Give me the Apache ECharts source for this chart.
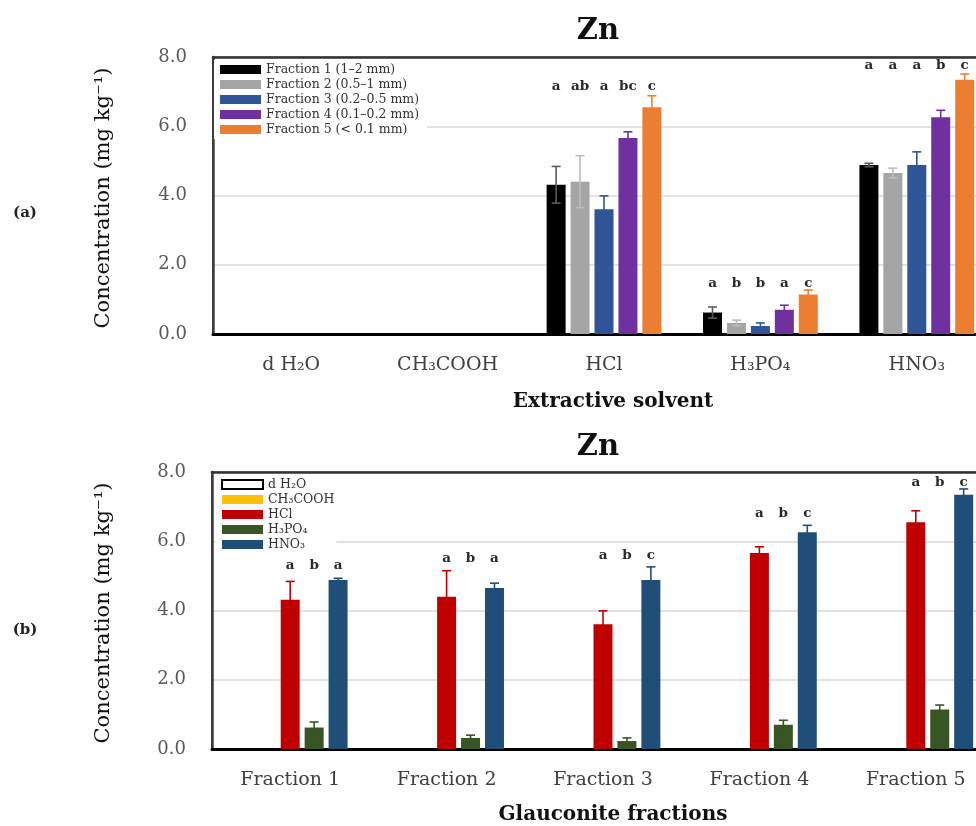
<!DOCTYPE html>
<html>
<head>
<meta charset="utf-8">
<script src="https://cdn.jsdelivr.net/npm/echarts@6/dist/echarts.min.js"></script>
<style>html,body{margin:0;padding:0;background:#fff;}#c{width:976px;height:826px;}</style>
</head>
<body>
<div id="c"></div>
<script>
// ---- data ----
const solvents = ['d H₂O', 'CH₃COOH', 'HCl', 'H₃PO₄', 'HNO₃'];
const fractionNamesTop = ['Fraction 1 (1–2 mm)', 'Fraction 2 (0.5–1 mm)', 'Fraction 3 (0.2–0.5 mm)', 'Fraction 4 (0.1–0.2 mm)', 'Fraction 5 (< 0.1 mm)'];
const fractionNamesBottom = ['Fraction 1', 'Fraction 2', 'Fraction 3', 'Fraction 4', 'Fraction 5'];
const yTicks = [0, 2, 4, 6, 8];

// concentrations (mg/kg), indexed by fraction 1..5
const dH2O    = [null, null, null, null, null];
const CH3COOH = [null, null, null, null, null];
const HCl     = [4.31, 4.40, 3.60, 5.66, 6.55];
const H3PO4   = [0.62, 0.32, 0.23, 0.70, 1.14];
const HNO3    = [4.88, 4.65, 4.88, 6.26, 7.34];
// standard deviations
const dH2OErr    = [null, null, null, null, null];
const CH3COOHErr = [null, null, null, null, null];
const HClErr     = [0.53, 0.75, 0.39, 0.18, 0.33];
const H3PO4Err   = [0.16, 0.08, 0.09, 0.13, 0.13];
const HNO3Err    = [0.05, 0.14, 0.38, 0.20, 0.17];

// significance letters, panel (a): compare fractions within a solvent
const lettersA_HCl   = ['a', 'ab', 'a', 'bc', 'c'];
const lettersA_H3PO4 = ['a', 'b', 'b', 'a', 'c'];
const lettersA_HNO3  = ['a', 'a', 'a', 'b', 'c'];
// panel (b): compare solvents within a fraction
const lettersB_HCl   = ['a', 'a', 'a', 'a', 'a'];
const lettersB_H3PO4 = ['b', 'b', 'b', 'b', 'b'];
const lettersB_HNO3  = ['a', 'a', 'c', 'c', 'c'];
// letter heights (data units)
const letterLevelA = [null, null, 7.15, 1.45, 7.75];   // by solvent
const letterLevelB = [5.30, 5.50, 5.60, 6.80, 7.70];   // by fraction

// ---- styling ----
const FONT = 'DejaVu Serif';
const colorsTop = ['#000000', '#a5a5a5', '#2f5597', '#7030a0', '#ed7d31'];
const errColorsTop = ['#5a5a5a', '#bdbdbd', '#2f5597', '#7030a0', '#ed7d31'];
const colorsBottom = ['#ffffff', '#ffc000', '#c00000', '#375623', '#1f4e79'];
const errColorsBottom = ['#000000', '#ffc000', '#c00000', '#375623', '#1f4e79'];
const BAR_W = 19, GAP = 0.26;
const PITCH = BAR_W * (1 + GAP);

const bySolvent = [dH2O, CH3COOH, HCl, H3PO4, HNO3];
const errBySolvent = [dH2OErr, CH3COOHErr, HClErr, H3PO4Err, HNO3Err];
const lettersA = [null, null, lettersA_HCl, lettersA_H3PO4, lettersA_HNO3];
const lettersB = [null, null, lettersB_HCl, lettersB_H3PO4, lettersB_HNO3];

// Panel (a): series = fraction, category = solvent
const seriesTop = fractionNamesTop.map((name, k) => ({
  name, type: 'bar', xAxisIndex: 0, yAxisIndex: 0,
  barWidth: BAR_W, barGap: (GAP * 100) + '%',
  itemStyle: { color: colorsTop[k] },
  data: bySolvent.map(arr => arr[k])
}));
// Panel (b): series = solvent, category = fraction
const seriesBottom = solvents.map((name, s) => ({
  name, type: 'bar', xAxisIndex: 1, yAxisIndex: 1,
  barWidth: BAR_W, barGap: (GAP * 100) + '%',
  itemStyle: s === 0 ? { color: '#ffffff', borderColor: '#000', borderWidth: 1.5 } : { color: colorsBottom[s] },
  data: bySolvent[s].slice()
}));

// error-bar data
const errTop = [], errBottom = [];
for (let s = 0; s < 5; s++) {
  for (let f = 0; f < 5; f++) {
    const v = bySolvent[s][f], e = errBySolvent[s][f];
    if (v == null) continue;
    errTop.push({ value: [s, v, e, f], letter: lettersA[s] ? lettersA[s][f] : '', level: letterLevelA[s], col: errColorsTop[f] });
    errBottom.push({ value: [f, v, e, s], letter: lettersB[s] ? lettersB[s][f] : '', level: letterLevelB[f], col: errColorsBottom[s] });
  }
}

function makeErrSeries(list, axisIdx) {
  return {
    type: 'custom', xAxisIndex: axisIdx, yAxisIndex: axisIdx, z: 5, silent: true,
    data: list.map(d => d.value),
    renderItem: function (params, api) {
      const d = list[params.dataIndex];
      const cat = api.value(0), v = api.value(1), e = api.value(2), slot = api.value(3);
      const off = (slot - 2) * PITCH;
      const hi = api.coord([cat, v + e]);
      const lo = api.coord([cat, v - e]);
      const x = hi[0] + off;
      const st = { stroke: d.col, lineWidth: 1.6 };
      const children = [
        { type: 'line', shape: { x1: x, y1: hi[1], x2: x, y2: lo[1] }, style: st },
        { type: 'line', shape: { x1: x - 4.5, y1: hi[1], x2: x + 4.5, y2: hi[1] }, style: st },
        { type: 'line', shape: { x1: x - 4.5, y1: lo[1], x2: x + 4.5, y2: lo[1] }, style: st }
      ];
      if (d.letter && d.level != null) {
        const p = api.coord([cat, d.level]);
        children.push({ type: 'text', style: { text: d.letter, x: p[0] + off, y: p[1], align: 'center', verticalAlign: 'middle', font: 'bold 13.5px "' + FONT + '"', fill: '#2a2a2a' } });
      }
      return { type: 'group', children };
    }
  };
}

const yAxisCommon = {
  type: 'value', min: 0, max: 8, interval: 2,
  axisLine: { show: true, lineStyle: { color: '#3f3f3f', width: 2.5 } },
  axisTick: { show: false },
  splitLine: { lineStyle: { color: '#d9d9d9', width: 1.5 } },
  axisLabel: { formatter: v => v.toFixed(1), fontFamily: FONT, fontSize: 18, color: '#595959', margin: 26 }
};
const xAxisCommon = {
  type: 'category',
  axisLine: { lineStyle: { color: '#000', width: 3 } },
  axisTick: { show: false },
  axisLabel: { fontFamily: FONT, fontSize: 19, color: '#404040', margin: 22 }
};
// top frame line of each panel
const xAxisFrame = {
  type: 'category', position: 'top',
  axisLine: { show: true, lineStyle: { color: '#333', width: 2.5 } },
  axisTick: { show: false }, axisLabel: { show: false }, splitLine: { show: false }
};
const legendCommon = {
  orient: 'vertical', itemWidth: 41, itemHeight: 9, itemGap: 2,
  backgroundColor: '#ffffff', icon: 'rect',
  textStyle: { fontFamily: FONT, fontSize: 12.5, color: '#333' }
};

const chart = echarts.init(document.getElementById('c'), null, { renderer: 'canvas' });
chart.setOption({
  backgroundColor: '#ffffff',
  animation: false,
  grid: [
    { left: 213, top: 57, width: 782, height: 277, show: true, borderColor: '#333', borderWidth: 2, containLabel: false, outerBoundsMode: 'none' },
    { left: 212, top: 472, width: 782, height: 277, show: true, borderColor: '#333', borderWidth: 2, containLabel: false, outerBoundsMode: 'none' }
  ],
  xAxis: [
    Object.assign({}, xAxisCommon, { gridIndex: 0, data: solvents }),
    Object.assign({}, xAxisCommon, { gridIndex: 1, data: fractionNamesBottom }),
    Object.assign({}, xAxisFrame, { gridIndex: 0, data: solvents }),
    Object.assign({}, xAxisFrame, { gridIndex: 1, data: fractionNamesBottom })
  ],
  yAxis: [
    Object.assign({}, yAxisCommon, { gridIndex: 0 }),
    Object.assign({}, yAxisCommon, { gridIndex: 1 })
  ],
  legend: [
    Object.assign({}, legendCommon, { left: 214, top: 60, padding: [3, 8, 3, 6], data: fractionNamesTop }),
    Object.assign({}, legendCommon, { left: 215, top: 475, padding: [3, 2, 3, 6], data: solvents.slice() })
  ],
  graphic: [
    { type: 'text', style: { text: 'Zn', font: 'bold 29px "' + FONT + '"', fill: '#111', align: 'center', verticalAlign: 'middle' }, position: [598, 31] },
    { type: 'text', style: { text: 'Zn', font: 'bold 29px "' + FONT + '"', fill: '#111', align: 'center', verticalAlign: 'middle' }, position: [598, 447] },
    { type: 'text', style: { text: 'Extractive solvent', font: 'bold 20px "' + FONT + '"', fill: '#111', align: 'center', verticalAlign: 'middle' }, position: [613, 402] },
    { type: 'text', style: { text: 'Glauconite fractions', font: 'bold 20px "' + FONT + '"', fill: '#111', align: 'center', verticalAlign: 'middle' }, position: [613, 815] },
    { type: 'text', rotation: Math.PI / 2, style: { text: 'Concentration (mg kg⁻¹)', font: '21px "' + FONT + '"', fill: '#111', align: 'center', verticalAlign: 'middle' }, position: [104, 198] },
    { type: 'text', rotation: Math.PI / 2, style: { text: 'Concentration (mg kg⁻¹)', font: '21px "' + FONT + '"', fill: '#111', align: 'center', verticalAlign: 'middle' }, position: [104, 613] },
    { type: 'text', style: { text: '(a)', font: 'bold 15px "' + FONT + '"', fill: '#222', align: 'center', verticalAlign: 'middle' }, position: [25, 213] },
    { type: 'text', style: { text: '(b)', font: 'bold 15px "' + FONT + '"', fill: '#222', align: 'center', verticalAlign: 'middle' }, position: [25, 630] }
  ],
  series: seriesTop.concat(seriesBottom, [makeErrSeries(errTop, 0), makeErrSeries(errBottom, 1)])
});
</script>
</body>
</html>
